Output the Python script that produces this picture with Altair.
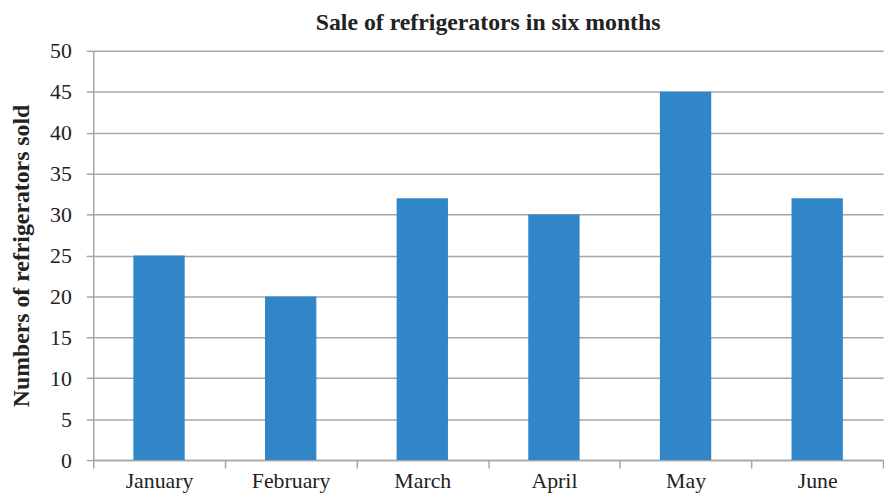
import altair as alt
import pandas as pd

months = ["January", "February", "March", "April", "May", "June"]
sold = [25, 20, 32, 30, 45, 32]

df = pd.DataFrame({"month": months, "sold": sold})

FONT = "Liberation Serif"

chart = alt.Chart(df).mark_bar(color="#3186c8", width=alt.RelativeBandSize(0.39)).encode(
    x=alt.X("month:N", sort=months, title=None,
            scale=alt.Scale(paddingInner=0, paddingOuter=0),
            axis=alt.Axis(labelAngle=0, labelFontSize=22, labelFont=FONT, labelColor="#222",
                          tickBand="extent", tickSize=8, tickColor="#a6a6a6", tickWidth=1.5,
                          domainColor="#a6a6a6", domainWidth=1.5, labelPadding=3, grid=False)),
    y=alt.Y("sold:Q", title="Numbers of refrigerators sold",
            scale=alt.Scale(domain=[0, 50], nice=False),
            axis=alt.Axis(values=list(range(0, 51, 5)), labelFontSize=22, labelFont=FONT,
                          labelColor="#222", tickSize=7, tickColor="#a6a6a6", tickWidth=1.5,
                          domainColor="#a6a6a6", domainWidth=1.5, labelPadding=15,
                          gridColor="#a6a6a6", gridWidth=1.5,
                          titleFont=FONT, titleFontSize=24, titleFontWeight="bold",
                          titleColor="#222", titlePadding=16)),
).properties(
    width=884, height=486,
    autosize=alt.AutoSizeParams(type="fit", contains="padding"),
    padding={"left": 2, "right": 0, "top": 1, "bottom": 0},
    title=alt.TitleParams("Sale of refrigerators in six months", font=FONT, fontSize=24,
                          fontWeight="bold", color="#222", offset=5),
).configure_view(stroke=None)

chart.save("out.html", embed_options={"renderer": "svg", "actions": False})
